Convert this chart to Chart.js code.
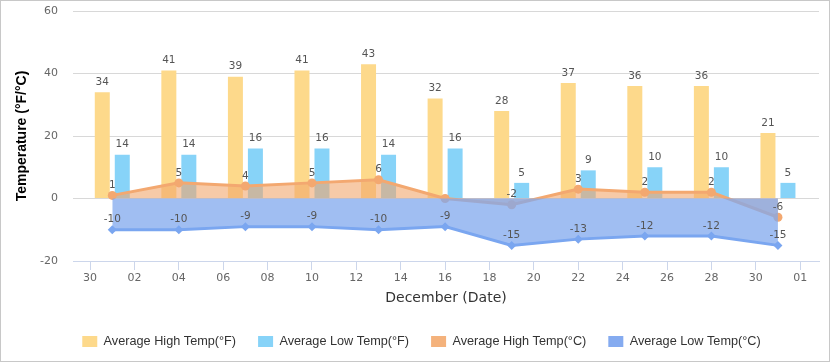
<!DOCTYPE html>
<html>
<head>
<meta charset="utf-8">
<style>
  html, body { margin: 0; padding: 0; background: #fff; }
  #wrap { width: 830px; height: 362px; }
</style>
</head>
<body>
<div id="wrap"><canvas id="myChart" width="830" height="362"></canvas></div>
<script src="https://cdn.jsdelivr.net/npm/chart.js@4.4.1/dist/chart.umd.min.js"></script>
<script>
    // day number counted from Nov 30 (0) to Jan 1 (32)
    const days = [1, 4, 7, 10, 13, 16, 19, 22, 25, 28, 31];
    const highF = [34, 41, 39, 41, 43, 32, 28, 37, 36, 36, 21];
    const lowF = [14, 14, 16, 16, 14, 16, 5, 9, 10, 10, 5];
    const highC = [1, 5, 4, 5, 6, 0, -2, 3, 2, 2, -6];
    const lowC = [-10, -10, -9, -9, -10, -9, -15, -13, -12, -12, -15];

    const tickDays = [0, 2, 4, 6, 8, 10, 12, 14, 16, 18, 20, 22, 24, 26, 28, 30, 32];
    const tickLabels = ['30', '02', '04', '06', '08', '10', '12', '14', '16', '18', '20', '22', '24', '26', '28', '30', '01'];
    const seriesNames = ['Average High Temp(°F)', 'Average Low Temp(°F)', 'Average High Temp(°C)', 'Average Low Temp(°C)'];
    const legendColors = ['#fdd98b', '#87d3f8', '#f4b27c', '#85abf0'];

    const pts = (vals) => days.map((d, i) => ({ x: d, y: vals[i] }));

    // value text above bars and points
    const valueLabels = {
        id: 'valueLabels',
        afterDatasetsDraw(chart) {
            const ctx = chart.ctx;
            ctx.save();
            ctx.font = '10.5px "DejaVu Sans"';
            ctx.fillStyle = '#555';
            ctx.textAlign = 'center';
            ctx.textBaseline = 'middle';
            chart.data.datasets.forEach((ds, i) => {
                const meta = chart.getDatasetMeta(i);
                meta.data.forEach((el, j) => {
                    const v = ds.data[j].y;
                    if (v === 0) return;
                    ctx.fillText(String(v), el.x, el.y - 10);
                });
            });
            ctx.restore();
        }
    };

    const frame = {
        id: 'frame',
        afterDraw(chart) {
            const ctx = chart.ctx;
            ctx.save();
            ctx.strokeStyle = '#c8c8c8';
            ctx.lineWidth = 1;
            ctx.strokeRect(0.5, 0.5, chart.width - 1, chart.height - 1);
            ctx.restore();
        }
    };

    Chart.defaults.font.family = '"DejaVu Sans"';
    Chart.defaults.color = '#666';

    var ctx = document.getElementById('myChart').getContext('2d');
    var myChart = new Chart(ctx, {
        type: 'line',
        data: {
            datasets: [{
                type: 'bar',
                label: seriesNames[0],
                data: pts(highF),
                backgroundColor: '#fdd98b',
                order: 2,
                categoryPercentage: 0.9013,
                barPercentage: 0.75
            }, {
                type: 'bar',
                label: seriesNames[1],
                data: pts(lowF),
                backgroundColor: '#87d3f8',
                order: 2,
                categoryPercentage: 0.9013,
                barPercentage: 0.75
            }, {
                label: seriesNames[2],
                data: pts(highC),
                borderColor: '#f3a870',
                backgroundColor: 'rgba(242,166,108,0.6)',
                borderWidth: 3,
                pointRadius: 4.5,
                pointBackgroundColor: '#f3a870',
                pointBorderWidth: 0,
                fill: 'origin',
                tension: 0,
                order: 1
            }, {
                label: seriesNames[3],
                data: pts(lowC),
                borderColor: '#7aa6f0',
                backgroundColor: 'rgba(128,168,238,0.75)',
                borderWidth: 3,
                pointStyle: 'rectRot',
                pointRadius: 4.5,
                pointBackgroundColor: '#7aa6f0',
                pointBorderWidth: 0,
                fill: 'origin',
                tension: 0,
                order: 0
            }]
        },
        options: {
            responsive: false,
            animation: false,
            devicePixelRatio: 1,
            layout: { padding: { top: 11, left: 24, right: 11, bottom: 4.15 } },
            plugins: {
                tooltip: { enabled: false },
                legend: {
                    position: 'bottom',
                    labels: {
                        font: { family: '"Liberation Sans"', size: 12.7 },
                        color: '#333',
                        boxWidth: 15,
                        boxHeight: 11,
                        padding: 22,
                        sort: (a, b) => a.datasetIndex - b.datasetIndex,
                        generateLabels: (chart) => {
                            const items = Chart.defaults.plugins.legend.labels.generateLabels(chart);
                            items.forEach(it => {
                                it.fillStyle = legendColors[it.datasetIndex];
                                it.strokeStyle = legendColors[it.datasetIndex];
                                it.lineWidth = 0;
                            });
                            return items;
                        }
                    }
                }
            },
            scales: {
                x: {
                    type: 'linear',
                    min: -0.77,
                    max: 32.85,
                    offset: false,
                    afterBuildTicks: (scale) => {
                        scale.ticks = tickDays.map(v => ({ value: v }));
                    },
                    afterFit: (scale) => {
                        scale.height = 52.15;
                        scale.paddingLeft = 0;
                        scale.paddingRight = 0;
                    },
                    ticks: {
                        autoSkip: false,
                        maxRotation: 0,
                        padding: 2,
                        color: '#666',
                        font: { size: 11 },
                        callback: (value, index) => tickLabels[index]
                    },
                    grid: {
                        drawOnChartArea: false,
                        offset: false,
                        drawTicks: true,
                        tickLength: 9,
                        tickColor: '#ccd6eb'
                    },
                    border: { color: '#ccd6eb', width: 1 },
                    title: {
                        display: true,
                        text: 'December (Date)',
                        color: '#333',
                        font: { size: 14 },
                        padding: { top: 0, bottom: 6.75 }
                    }
                },
                y: {
                    min: -20,
                    max: 60,
                    afterFit: (scale) => {
                        scale.width = 49;
                        scale.paddingTop = 0;
                        scale.paddingBottom = 0;
                    },
                    ticks: {
                        stepSize: 20,
                        padding: 15,
                        color: '#666',
                        font: { size: 11 }
                    },
                    grid: { color: '#d8d8d8', drawTicks: false },
                    border: { display: false },
                    title: {
                        display: true,
                        text: 'Temperature (°F/°C)',
                        color: '#000',
                        font: { family: '"Liberation Sans"', size: 14, weight: 'bold' },
                        padding: { top: -10.4, bottom: 0 }
                    }
                }
            }
        },
        plugins: [valueLabels, frame]
    });
</script>
</body>
</html>
